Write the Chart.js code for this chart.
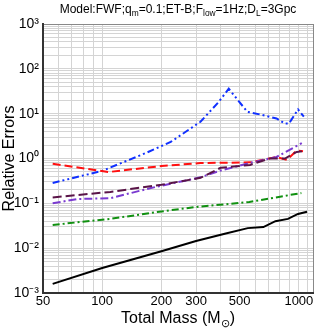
<!DOCTYPE html>
<html>
<head>
<meta charset="utf-8">
<script src="https://cdn.jsdelivr.net/npm/chart.js@4.4.1/dist/chart.umd.min.js"></script>
<style>
body{margin:0;background:#fff;font-family:"Liberation Sans",Arial,sans-serif;}
#wrap{position:relative;width:316px;height:331px;}
#title{position:absolute;left:40px;width:276px;top:2px;text-align:center;font-size:12px;line-height:14px;white-space:nowrap;}
#xtitle{position:absolute;left:43px;width:270px;top:309px;text-align:center;font-size:16px;line-height:18px;}
sub{font-size:70%;line-height:0;}
</style>
</head>
<body>
<div id="wrap">
<canvas id="c" width="316" height="331"></canvas>
<div id="title">Model:FWF;q<sub>m</sub>=0.1;ET-B;F<sub>low</sub>=1Hz;D<sub>L</sub>=3Gpc</div>
<div id="xtitle">Total Mass (M<sub>⊙</sub>)</div>
</div>
<script>
// values (mass in solar masses, relative error)
let blackMass = [56, 100, 200, 300, 420, 550, 660, 760, 880, 990, 1100];
let blackErr  = [0.0016, 0.0036, 0.0085, 0.0145, 0.021, 0.028, 0.0295, 0.040, 0.045, 0.058, 0.065];

let greenMass = [56, 110, 190, 300, 560, 1030];
let greenErr  = [0.033, 0.045, 0.064, 0.083, 0.107, 0.17];

let redMass = [56, 108, 200, 316, 565, 770, 870, 975, 1050];
let redErr  = [0.76, 0.50, 0.68, 0.79, 0.82, 1.08, 0.93, 1.5, 1.45];

let blueMass = [56, 100, 167, 223, 316, 390, 440, 490, 547, 635, 770, 850, 890, 990, 1060];
let blueErr  = [0.285, 0.53, 1.33, 2.34, 6.6, 18, 36, 20, 11, 9.6, 7.8, 6.0, 6.0, 12.4, 8.6];

let maroonMass = [56, 110, 200, 316, 400, 565, 710, 850, 975, 1050];
let maroonErr  = [0.135, 0.18, 0.26, 0.37, 0.62, 0.72, 1.0, 1.0, 1.4, 1.45];

let violetMass = [56, 75, 110, 177, 316, 400, 565, 770, 1035];
let violetErr  = [0.10, 0.125, 0.13, 0.22, 0.38, 0.54, 0.8, 1.08, 2.2];

let xGrid = [50, 60, 70, 80, 90, 100, 200, 300, 400, 500, 600, 700, 800, 900, 1000, 1100, 1180];
let xLabels = [50, 100, 200, 300, 500, 1000];

let sup = {'-':'⁻','0':'⁰','1':'¹','2':'²','3':'³'};

function pts(xs, ys) {
    return xs.map(function (x, i) { return {x: x, y: ys[i]}; });
}

function series(label, xs, ys, color, dash) {
    return {
        label: label,
        data: pts(xs, ys),
        borderColor: color,
        backgroundColor: 'transparent',
        borderWidth: 2,
        borderDash: dash,
        pointRadius: 0,
        tension: 0
    };
}

let canvas = document.getElementById('c');

let chart = new Chart(canvas, {
    type: 'line',
    data: {
        datasets: [
            series('black', blackMass, blackErr, '#000000', []),
            series('green', greenMass, greenErr, '#109010', [7, 3, 2, 3]),
            series('maroon', maroonMass, maroonErr, '#5a1448', [9, 4]),
            series('violet', violetMass, violetErr, '#7a3ad0', [8, 3, 2, 3]),
            series('red', redMass, redErr, '#ff1010', [8, 4]),
            series('blue', blueMass, blueErr, '#1030ff', [7, 3, 2, 3, 2, 3])
        ]
    },
    options: {
        responsive: false,
        animation: false,
        layout: {padding: {top: 24, right: 3, left: 0, bottom: 0}},
        plugins: {legend: {display: false}, tooltip: {enabled: false}},
        scales: {
            x: {
                type: 'logarithmic',
                min: 50,
                max: 1180,
                afterBuildTicks: function (scale) {
                    scale.ticks = xGrid.map(function (v) { return {value: v}; });
                },
                afterFit: function (scale) { scale.height = 38; },
                ticks: {
                    autoSkip: false,
                    maxRotation: 0,
                    padding: 1,
                    color: '#000',
                    font: {family: 'Liberation Sans', size: 13},
                    callback: function (v) { return xLabels.indexOf(v) >= 0 ? String(v) : ''; }
                },
                grid: {
                    drawTicks: false,
                    color: function (c) { return c.tick && c.tick.value === 1180 ? '#888' : '#d4d4d4'; },
                    lineWidth: 1
                },
                border: {color: '#333', width: 2}
            },
            y: {
                type: 'logarithmic',
                min: 0.001,
                max: 1000,
                afterBuildTicks: function (scale) {
                    let t = [];
                    for (let e = -3; e <= 3; e++) {
                        for (let m = 1; m <= 9; m++) {
                            if (e === 3 && m > 1) break;
                            t.push({value: m * Math.pow(10, e)});
                        }
                    }
                    scale.ticks = t;
                },
                afterFit: function (scale) { scale.width = 43; },
                ticks: {
                    autoSkip: false,
                    padding: 4,
                    color: '#000',
                    font: {family: 'Liberation Sans', size: 14},
                    callback: function (v) {
                        let e = Math.round(Math.log10(v));
                        if (Math.abs(v - Math.pow(10, e)) > 1e-9 * Math.pow(10, e)) return '';
                        return '10' + String(e).split('').map(function (ch) { return sup[ch]; }).join('');
                    }
                },
                grid: {
                    drawTicks: false,
                    color: function (c) { return c.tick && Math.abs(c.tick.value - 1000) < 1e-6 ? '#888' : '#d4d4d4'; },
                    lineWidth: 1
                },
                border: {color: '#333', width: 2},
                title: {
                    display: true,
                    text: 'Relative Errors',
                    color: '#000',
                    padding: 0,
                    font: {family: 'Liberation Sans', size: 16}
                }
            }
        }
    }
});
</script>
</body>
</html>
